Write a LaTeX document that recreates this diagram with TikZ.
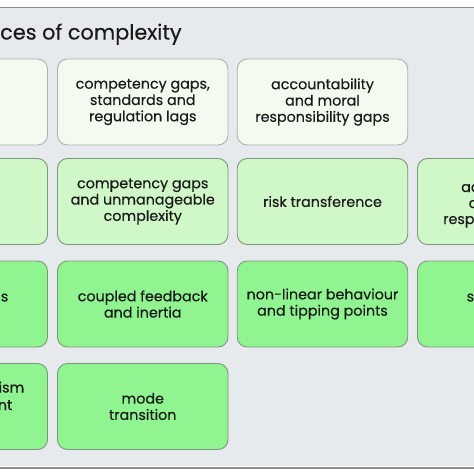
\documentclass[tikz,border=0pt]{standalone}
\usepackage{fontspec}
\setmainfont{Poppins}[FakeBold=0.35]
\usepackage{xcolor}
\usetikzlibrary{positioning}

\definecolor{panelbg}{HTML}{E7EAED}
\definecolor{rulegray}{HTML}{8E8E8E}
\definecolor{paleleaf}{HTML}{F3FBF0}
\definecolor{lightleaf}{HTML}{CFF7C7}
\definecolor{brightleaf}{HTML}{90F590}
\definecolor{edgepale}{HTML}{A9B2AB}
\definecolor{edgeleaf}{HTML}{7C977D}
\definecolor{inktext}{HTML}{1A1A1A}

\tikzset{
	boxtext/.style={font=\fontsize{14.3}{16.3}\selectfont, text=inktext},
	source/.style={boxtext, draw, rounded corners=10pt, minimum width=170.5pt,
		minimum height=86pt, align=center, inner sep=0pt, line width=0.9pt},
	tierone/.style={source, fill=paleleaf, draw=edgepale},
	tiertwo/.style={source, fill=lightleaf, draw=edgeleaf},
	tierthree/.style={source, fill=brightleaf, draw=edgeleaf},
	cutoff/.style={boxtext, inner sep=0pt}
}

\begin{document}
\begin{tikzpicture}[x=1pt,y=-1pt]
		
		\useasboundingbox (0,0) rectangle (474,474);
		\clip (0,0) rectangle (474,474);
		\fill[white] (0,0) rectangle (474,474);
		
		% panel
		\fill[panelbg] (0,8) rectangle (474,466);
		\draw[rulegray,line width=1.5pt] (0,7.5) -- (474,7.5);
		\draw[rulegray,line width=2.5pt] (0,468) -- (474,468);
		
		\node[anchor=base west,inner sep=0pt,text=inktext,
		font=\fontsize{20.8}{24}\selectfont]
		(title) at (0,39.5) {ces of complexity};
		
		% row 1
		\node[tierone] (lagA) at (-37.75,102) {};
		\node[tierone] (lagB) at (142.75,102)
		{competency gaps,\\standards and\\regulation lags};
		\node[tierone] (lagC) at (322.5,102)
		{accountability\\and moral\\responsibility gaps};
		
		% row 2
		\node[tiertwo] (riskA) at (-37.75,201.5) {};
		\node[tiertwo] (riskB) at (142.75,201.5)
		{competency gaps\\and unmanageable\\complexity};
		\node[tiertwo] (riskC) at (322.5,201.5) {risk transference};
		\node[tiertwo] (riskD) at (502.75,201.5) {};
		\node[cutoff,anchor=base west] (accD) at (461,192) {acc};
		\node[cutoff,anchor=base west] (andD) at (468.5,208) {a};
		\node[cutoff,anchor=base west] (respD) at (443,224) {respo};
		
		% row 3
		\node[tierthree] (loopA) at (-37.75,304) {};
		\node[tierthree] (loopB) at (142.75,304)
		{coupled feedback\\and inertia};
		\node[tierthree] (loopC) at (322.5,304)
		{non-linear behaviour\\and tipping points};
		\node[tierthree] (loopD) at (502.75,304) {};
		\node[cutoff,anchor=base east] (sA) at (8.5,301.5) {s};
		\node[cutoff,anchor=base west] (sD) at (466.5,301.5) {s};
		
		% row 4
		\node[tierthree] (modeA) at (-37.75,406.5) {};
		\node[tierthree] (modeB) at (142.75,406.5) {mode\\transition};
		\node[cutoff,anchor=base east] (ismA) at (24.5,392.5) {ism};
		\node[cutoff,anchor=base east] (ntA) at (12.5,410) {nt};
		
	\end{tikzpicture}
\end{document}
